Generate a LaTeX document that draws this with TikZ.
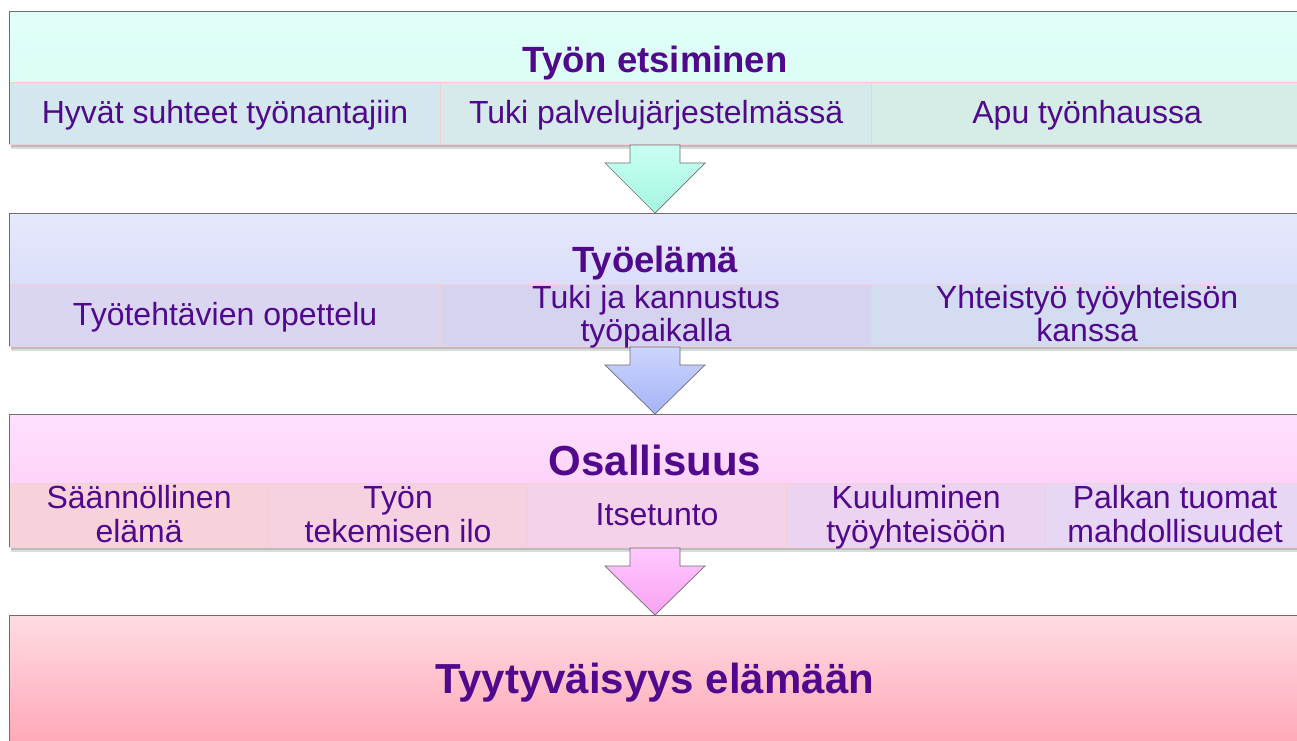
\documentclass[tikz,border=0pt]{standalone}
\usepackage{fontspec}
\setmainfont{Liberation Sans}
\newcommand{\tl}[1]{\rule[-5pt]{0pt}{29pt}\smash{#1}}
\definecolor{txt}{RGB}{80,8,140}
\definecolor{edge}{RGB}{110,110,110}
\definecolor{cline}{RGB}{242,208,216}
% band 1
\definecolor{aT}{HTML}{E0FFF9}\definecolor{aB}{HTML}{D6FCF4}
\definecolor{a1}{HTML}{D4E6EE}\definecolor{a2}{HTML}{D6EAEC}\definecolor{a3}{HTML}{D5ECE7}
% band 2
\definecolor{bT}{HTML}{E6E8FC}\definecolor{bB}{HTML}{D2D6FA}
\definecolor{b1}{HTML}{DAD5F0}\definecolor{b2}{HTML}{D5D3F0}\definecolor{b3}{HTML}{D3DCF0}
% band 3
\definecolor{cT}{HTML}{FFE0FC}\definecolor{cB}{HTML}{FDC8F9}
\definecolor{c1}{HTML}{F8D2DB}\definecolor{c2}{HTML}{F5D1E2}\definecolor{c3}{HTML}{F3D2EA}
\definecolor{c4}{HTML}{EDD3F2}\definecolor{c5}{HTML}{E7D6F4}
% band 4
\definecolor{dT}{HTML}{FFDCE3}\definecolor{dB}{HTML}{FFA3B3}
% arrows
\definecolor{arAT}{HTML}{C8FFF2}\definecolor{arAB}{HTML}{A6F6E2}
\definecolor{arBT}{HTML}{CDD5FC}\definecolor{arBB}{HTML}{A5B3F9}
\definecolor{arCT}{HTML}{FFC8FF}\definecolor{arCB}{HTML}{F8A2F2}
\begin{document}
\begin{tikzpicture}[x=1pt,y=-1pt,
  band/.style={anchor=north west, inner sep=0pt, minimum width=1294pt},
  bandedge/.style={draw=edge, line width=0.8pt},
  bandshadow/.style={fill=black, opacity=0.14},
  cell/.style={draw=cline, line width=1.2pt, anchor=north west, inner sep=0pt,
    text=txt, align=center, font=\fontsize{32}{33}\selectfont},
  cellA/.style={cell, minimum width=431pt, minimum height=62pt},
  cellC/.style={cell, minimum width=259pt, minimum height=64pt, font=\fontsize{32}{34}\selectfont},
  titleA/.style={text=txt, anchor=base, inner sep=0pt, font=\bfseries\fontsize{36.5}{40}\selectfont},
  titleB/.style={text=txt, anchor=base, inner sep=0pt, font=\bfseries\fontsize{42}{46}\selectfont},
  blockarrow/.style={draw=edge, line width=0.7pt}
]
\useasboundingbox (0,0) rectangle (1297,740);
\fill[white] (0,0) rectangle (1297,740);
\begin{scope}
\clip (0,0) rectangle (1297,740);

% ---- band 1
\fill[bandshadow] (11,144) rectangle (1303,149);
\fill[bandshadow] (11,144) rectangle (1303,146.5);
\node[band, top color=aT, bottom color=aB, minimum height=133pt] (band1) at (9,11) {};
\node[titleA] (t1) at (655,72) {Työn etsiminen};
\node[cellA, fill=a1] (c11) at (9,82) {\tl{Hyvät suhteet työnantajiin}};
\node[cellA, fill=a2] (c12) at (440,82) {\tl{Tuki palvelujärjestelmässä}};
\node[cellA, fill=a3] (c13) at (871,82) {\tl{Apu työnhaussa}};
\draw[bandedge] (band1.south west) -- (band1.north west) -- (band1.north east);

% ---- arrow 1
\path[blockarrow, top color=arAT, bottom color=arAB]
  (630,145) -- (680,145) -- (680,163) -- (705,163) -- (655,213) -- (605,163) -- (630,163) -- cycle;

% ---- band 2
\fill[bandshadow] (11,346) rectangle (1303,351);
\fill[bandshadow] (11,346) rectangle (1303,348.5);
\node[band, top color=bT, bottom color=bB, minimum height=133pt] (band2) at (9,213) {};
\node[titleA] (t2) at (655,272) {Työelämä};
\node[cellA, fill=b1] (c21) at (9,284) {\tl{Työtehtävien opettelu}};
\node[cellA, fill=b2] (c22) at (440,284) {\tl{Tuki ja kannustus}\\\tl{työpaikalla}};
\node[cellA, fill=b3] (c23) at (871,284) {\tl{Yhteistyö työyhteisön}\\\tl{kanssa}};
\draw[bandedge] (band2.south west) -- (band2.north west) -- (band2.north east);

% ---- arrow 2
\path[blockarrow, top color=arBT, bottom color=arBB]
  (630,347) -- (680,347) -- (680,365) -- (705,365) -- (655,414) -- (605,365) -- (630,365) -- cycle;

% ---- band 3
\fill[bandshadow] (11,547) rectangle (1303,552);
\fill[bandshadow] (11,547) rectangle (1303,549.5);
\node[band, top color=cT, bottom color=cB, minimum height=133pt] (band3) at (9,414) {};
\node[titleB] (t3) at (655,475) {Osallisuus};
\node[cellC, fill=c1] (c31) at (9,483) {\tl{Säännöllinen}\\\tl{elämä}};
\node[cellC, fill=c2] (c32) at (268,483) {\tl{Työn}\\\tl{tekemisen ilo}};
\node[cellC, fill=c3] (c33) at (527,483) {\tl{Itsetunto}};
\node[cellC, fill=c4] (c34) at (786,483) {\tl{Kuuluminen}\\\tl{työyhteisöön}};
\node[cellC, fill=c5] (c35) at (1045,483) {\tl{Palkan tuomat}\\\tl{mahdollisuudet}};
\draw[bandedge] (band3.south west) -- (band3.north west) -- (band3.north east);

% ---- arrow 3
\path[blockarrow, top color=arCT, bottom color=arCB]
  (630,548) -- (680,548) -- (680,566) -- (705,566) -- (655,615) -- (605,566) -- (630,566) -- cycle;

% ---- band 4
\node[band, top color=dT, bottom color=dB, minimum height=140pt] (band4) at (9,615) {};
\draw[bandedge] (band4.south west) -- (band4.north west) -- (band4.north east);
\node[titleB] (t4) at (655,693) {Tyytyväisyys elämään};
\end{scope}
\end{tikzpicture}
\end{document}
